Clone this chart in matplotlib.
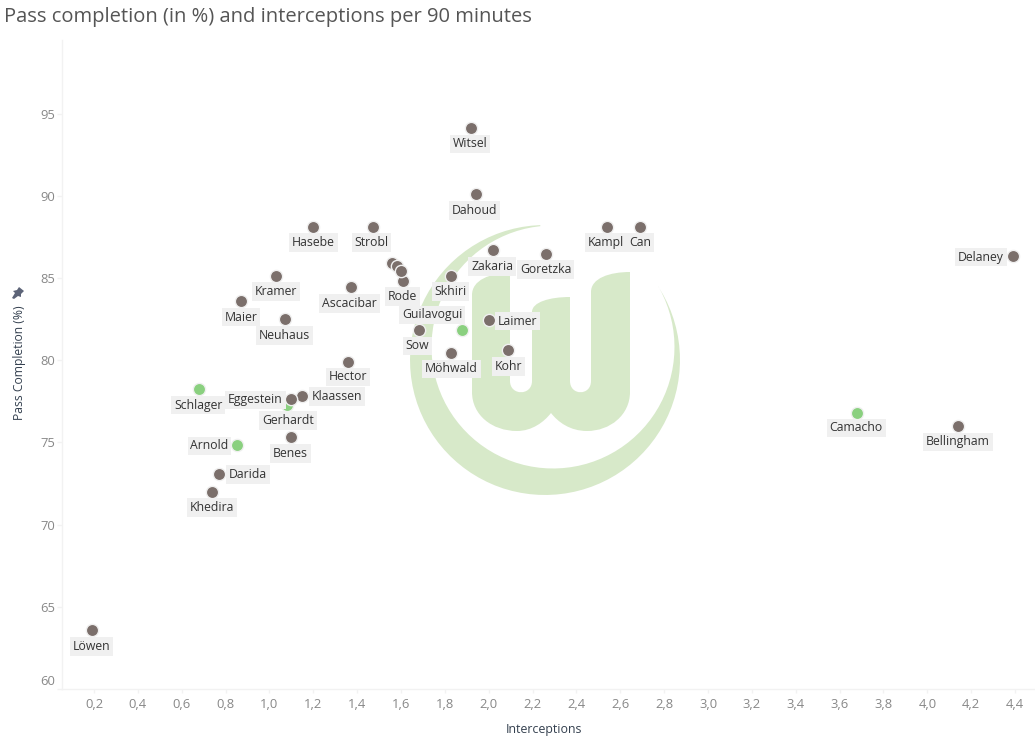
import matplotlib
matplotlib.use('Agg')
import numpy as np
from matplotlib import pyplot as plt
from matplotlib.path import Path
from matplotlib.patches import PathPatch
from matplotlib.transforms import Affine2D, ScaledTranslation

plt.rcParams['font.family'] = ['Open Sans', 'DejaVu Sans']

# data
brown_names = ['Witsel', 'Dahoud', 'Hasebe', 'Strobl', 'Kampl', 'Can', 'Zakaria', 'Goretzka',
               'Delaney', 'Kramer', 'Ascacibar', 'Skhiri', 'Maier', 'Neuhaus', 'Rode', '', '', '',
               'Sow', 'Laimer', 'Möhwald', 'Kohr', 'Hector', 'Klaassen', 'Eggestein', 'Benes',
               'Darida', 'Khedira', 'Löwen', 'Bellingham']
brown_x = [1.92, 1.94, 1.20, 1.47, 2.54, 2.69, 2.02, 2.26,
           4.39, 1.03, 1.37, 1.83, 0.87, 1.07, 1.61, 1.56, 1.58, 1.60,
           1.68, 2.00, 1.83, 2.09, 1.36, 1.15, 1.10, 1.10,
           0.77, 0.74, 0.19, 4.14]
brown_y = [94.15, 90.1, 88.1, 88.1, 88.1, 88.1, 86.7, 86.5,
           86.35, 85.15, 84.45, 85.15, 83.6, 82.5, 84.85, 85.95, 85.75, 85.45,
           81.85, 82.45, 80.45, 80.6, 79.9, 77.85, 77.65, 75.3,
           73.1, 71.95, 63.55, 76.0]

green_names = ['Guilavogui', 'Schlager', 'Gerhardt', 'Arnold', 'Camacho']
green_x = [1.88, 0.68, 1.08, 0.85, 3.68]
green_y = [81.85, 78.25, 77.3, 74.85, 76.8]

x_ticks = [0.2, 0.4, 0.6, 0.8, 1.0, 1.2, 1.4, 1.6, 1.8, 2.0, 2.2, 2.4, 2.6, 2.8, 3.0, 3.2, 3.4, 3.6, 3.8, 4.0, 4.2, 4.4]
y_ticks = [60, 65, 70, 75, 80, 85, 90, 95]

# label offset from the point, in pixels
label_off = {'Witsel': (-1, -16), 'Dahoud': (-1, -16), 'Hasebe': (0, -15), 'Strobl': (-1, -15),
             'Kampl': (-1, -15), 'Can': (0, -15), 'Zakaria': (-1, -16), 'Goretzka': (0, -16),
             'Delaney': (-32, -1), 'Kramer': (0, -16), 'Ascacibar': (-1, -16), 'Skhiri': (-1, -16),
             'Maier': (0, -16), 'Neuhaus': (0, -16), 'Rode': (-1, -16), 'Guilavogui': (-30, 15),
             'Sow': (-1, -16), 'Laimer': (29, -1), 'Möhwald': (0, -16), 'Kohr': (0, -16),
             'Hector': (0, -15), 'Schlager': (-1, -16), 'Klaassen': (35, -1), 'Eggestein': (-36, -1),
             'Gerhardt': (1, -16), 'Benes': (-1, -16), 'Arnold': (-27, -1), 'Darida': (29, -1),
             'Khedira': (0, -15), 'Löwen': (0, -16), 'Camacho': (-1, -15), 'Bellingham': (0, -16)}

W, H = 1035, 742
fig = plt.figure(figsize=(W / 100, H / 100), dpi=100)
ax = fig.add_axes([62 / W, (H - 689) / H, (W - 62) / W, (689 - 40) / H])

ax.set_xlim(0.2 + (62 - 94) / 219.3, 0.2 + (1035 - 94) / 219.3)
ax.set_ylim(95 - (689 - 114) / 16.42, 95 - (40 - 114) / 16.42)

# club logo behind the points, drawn in picture pixels
px = Affine2D().scale(1, -1).translate(0, H)
logo_col = '#d7e9c9'


def arc(cx, cy, r, a0, a1):
    t = np.radians(np.linspace(a0, a1, 80))
    return np.column_stack([cx + r * np.cos(t), cy - r * np.sin(t)])


crescent = np.vstack([arc(545, 360, 135, 92, 393), arc(553, 347, 121.5, 390, 96)])
ax.fill(crescent[:, 0], crescent[:, 1], color=logo_col, lw=0, zorder=1, transform=px, clip_on=False)

M, L, C, Z = Path.MOVETO, Path.LINETO, Path.CURVE4, Path.CLOSEPOLY
w_verts = [(472, 392), (472, 295),
           (472, 280), (490, 273), (510, 273),
           (510, 381),
           (510, 396), (532, 396), (532, 381),
           (532, 312),
           (532, 302), (550, 297), (570, 297),
           (570, 381),
           (570, 396), (591, 396), (591, 381),
           (591, 292),
           (591, 278), (610, 272), (630, 272),
           (630, 392),
           (630, 415), (610, 431), (587, 431),
           (570, 431), (558, 422), (551, 413),
           (544, 422), (532, 431), (517, 431),
           (492, 431), (472, 415), (472, 392),
           (472, 392)]
w_codes = [M, L, C, C, C, L, C, C, C, L, C, C, C, L, C, C, C, L, C, C, C, L,
           C, C, C, C, C, C, C, C, C, C, C, C, Z]
ax.add_patch(PathPatch(Path(w_verts, w_codes), facecolor=logo_col, lw=0, zorder=1, transform=px, clip_on=False))

# points, brown sits on top of green
ax.scatter(green_x, green_y, s=78, color='#8ad07f', edgecolors='#f0f0f0', linewidths=1.0, zorder=3)
ax.scatter(brown_x, brown_y, s=78, color='#7b6f6b', edgecolors='#f0f0f0', linewidths=1.0, zorder=3)

for names, xs, ys in [(brown_names, brown_x, brown_y), (green_names, green_x, green_y)]:
    for n, x, y in zip(names, xs, ys):
        if n == '':
            continue
        ax.annotate(n, (x, y), xytext=label_off[n], textcoords='offset pixels', ha='center', va='center',
                    fontsize=8.8, color='#333333', zorder=4,
                    bbox=dict(facecolor='#f0f0f0', edgecolor='none', pad=2.0))

# axes
for s in ['top', 'right']:
    ax.spines[s].set_visible(False)
for s in ['left', 'bottom']:
    ax.spines[s].set_color('#f2f2f2')
    ax.spines[s].set_linewidth(1)
ax.set_xticks(x_ticks)
ax.set_xticklabels([('%.1f' % v).replace('.', ',') for v in x_ticks])
ax.set_yticks(y_ticks)
ax.tick_params(axis='x', color='#f2f2f2', length=3, width=1, labelsize=9.4, labelcolor='#888888', pad=3.5)
ax.tick_params(axis='y', color='#f2f2f2', length=3.6, width=1, labelsize=9.4, labelcolor='#888888', pad=1.5)

# the bottom y label is pushed up inside the plot, as in the reference
bottom_label = ax.get_yticklabels()[0]
bottom_label.set_transform(bottom_label.get_transform() + ScaledTranslation(0, 9 / 100, fig.dpi_scale_trans))

fig.text(544 / W, 1 - 729 / H, 'Interceptions', ha='center', va='center', fontsize=8.9, color='#34404f')
fig.text(20 / W, 1 - 363 / H, 'Pass Completion (%)', ha='center', va='center', rotation=90,
         fontsize=8.7, color='#34404f')

# small pin icon next to the axis title
pin = [(12, 298), (15, 293), (13, 291), (17, 290), (19, 287), (24, 291), (21, 294), (21, 297), (18, 296), (14, 299)]
ax.fill([p[0] for p in pin], [p[1] for p in pin], color='#5d6478', lw=0, transform=px, clip_on=False)

fig.text(4 / W, 1 - 17 / H, 'Pass completion (in %) and interceptions per 90 minutes', ha='left', va='center',
         fontsize=14.5, color='#555555')

fig.savefig('out.png', dpi=100)
